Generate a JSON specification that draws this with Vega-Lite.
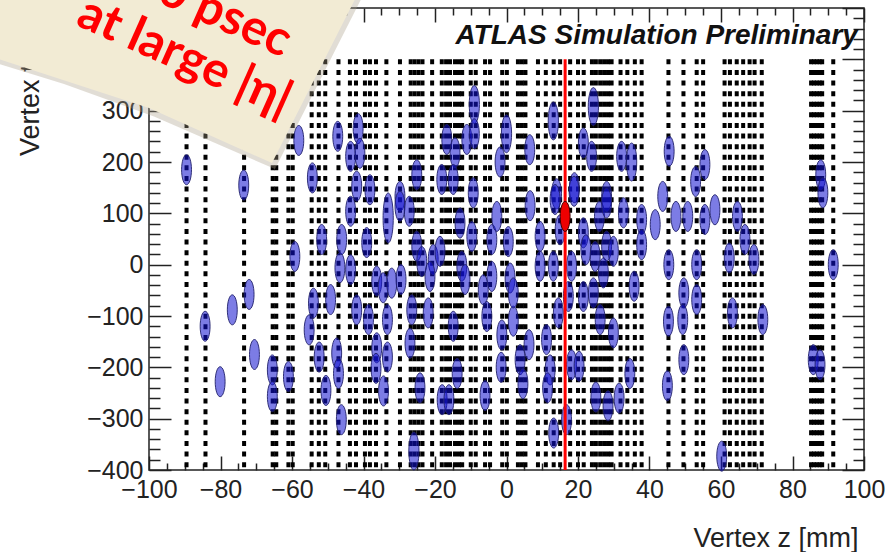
{
  "$schema": "https://vega.github.io/schema/vega-lite/v6.json",
  "width": 715,
  "height": 462,
  "autosize": {"type": "none"},
  "padding": {"left": 149, "top": 8, "right": 25, "bottom": 82},
  "background": "white",
  "config": {
    "view": {"stroke": "#222222", "strokeWidth": 1.5},
    "axis": {
      "grid": false,
      "domain": false,
      "zindex": 0,
      "tickColor": "#222222",
      "tickWidth": 1.5,
      "labelFont": "Liberation Sans",
      "labelFontSize": 25,
      "labelColor": "#222222",
      "labelFlush": false,
      "labelOverlap": false,
      "labelBound": false,
      "titleFont": "Liberation Sans",
      "titleFontSize": 27,
      "titleFontWeight": "normal",
      "titleColor": "#222222"
    }
  },
  "datasets": {
    "one": [{}],
    "tracks": [
      {"z": -89.5}, {"z": -84.2}, {"z": -73.4}, {"z": -65.4}, {"z": -64.4}, {"z": -61.0}, {"z": -59.8},
      {"z": -54.5}, {"z": -52.5}, {"z": -50.7}, {"z": -47.0}, {"z": -43.8}, {"z": -42.1}, {"z": -39.6},
      {"z": -38.2}, {"z": -36.5}, {"z": -33.6}, {"z": -29.8}, {"z": -26.8}, {"z": -25.7}, {"z": -24.6},
      {"z": -23.5}, {"z": -20.8}, {"z": -18.1}, {"z": -16.9}, {"z": -15.8}, {"z": -14.4}, {"z": -13.3},
      {"z": -12.4}, {"z": -10.0}, {"z": -8.6}, {"z": -6.0}, {"z": -4.6}, {"z": -1.2}, {"z": 0.1},
      {"z": 3.2}, {"z": 4.3}, {"z": 5.3}, {"z": 8.8}, {"z": 11.0}, {"z": 13.2}, {"z": 15.0},
      {"z": 17.8}, {"z": 20.0}, {"z": 21.6}, {"z": 23.9}, {"z": 25.0}, {"z": 26.2}, {"z": 27.3},
      {"z": 28.4}, {"z": 29.4}, {"z": 31.9}, {"z": 33.8}, {"z": 35.9}, {"z": 37.8}, {"z": 45.3},
      {"z": 49.5}, {"z": 53.2}, {"z": 55.0}, {"z": 61.0}, {"z": 62.5}, {"z": 64.4}, {"z": 66.2},
      {"z": 68.0}, {"z": 69.4}, {"z": 71.4}, {"z": 85.2}, {"z": 86.0}, {"z": 86.8}, {"z": 87.6},
      {"z": 88.3}, {"z": 91.4}
    ],
    "vertices": [
      {"z": -89.5, "t": 185, "c": "m"}, {"z": -73.5, "t": 155, "c": "m"}, {"z": -58.1, "t": 242, "c": "m"},
      {"z": -54.3, "t": 169, "c": "m"}, {"z": -47.2, "t": 250, "c": "m"}, {"z": -43.6, "t": 211, "c": "m"},
      {"z": -41.5, "t": 265, "c": "m"}, {"z": -41.0, "t": 217, "c": "m"}, {"z": -41.9, "t": 153, "c": "m"},
      {"z": -38.2, "t": 146, "c": "m"}, {"z": -29.8, "t": 133, "c": "m"}, {"z": -25.1, "t": 175, "c": "m"},
      {"z": -18.1, "t": 166, "c": "m"}, {"z": -16.7, "t": 244, "c": "m"}, {"z": -14.4, "t": 218, "c": "m"},
      {"z": -14.9, "t": 166, "c": "m"}, {"z": -11.1, "t": 244, "c": "m"}, {"z": -9.0, "t": 312, "c": "l"},
      {"z": -9.0, "t": 255, "c": "m"}, {"z": -9.3, "t": 140, "c": "m"}, {"z": -1.8, "t": 200, "c": "m"},
      {"z": 0.0, "t": 255, "c": "l"}, {"z": 6.5, "t": 224, "c": "m"}, {"z": 13.1, "t": 280, "c": "l"},
      {"z": 21.5, "t": 237, "c": "m"}, {"z": 24.3, "t": 308, "c": "l"}, {"z": 23.8, "t": 211, "c": "m"},
      {"z": 32.2, "t": 211, "c": "m"}, {"z": 35.0, "t": 200, "c": "l"}, {"z": 45.5, "t": 221, "c": "m"},
      {"z": 52.9, "t": 162, "c": "m"}, {"z": 55.5, "t": 195, "c": "m"}, {"z": 87.9, "t": 175, "c": "m"},
      {"z": 88.5, "t": 140, "c": "m"}, {"z": 19.0, "t": 150, "c": "m"}, {"z": 14.0, "t": 138, "c": "m"},
      {"z": 28.0, "t": 133, "c": "m"}, {"z": 6.6, "t": 115, "c": "m"},
      {"z": -84.3, "t": -120, "c": "m"}, {"z": -76.7, "t": -88, "c": "m"}, {"z": -72.0, "t": -58, "c": "m"},
      {"z": -70.5, "t": -175, "c": "m"}, {"z": -59.2, "t": 16, "c": "m"}, {"z": -54.0, "t": -75, "c": "m"},
      {"z": -55.2, "t": -127, "c": "m"}, {"z": -51.7, "t": 49, "c": "m"}, {"z": -52.4, "t": -180, "c": "m"},
      {"z": -49.2, "t": -68, "c": "m"}, {"z": -47.5, "t": -172, "c": "m"}, {"z": -47.0, "t": -212, "c": "m"},
      {"z": -46.6, "t": -6, "c": "m"}, {"z": -46.1, "t": 49, "c": "m"}, {"z": -43.6, "t": 104, "c": "m"},
      {"z": -43.6, "t": -10, "c": "m"}, {"z": -41.9, "t": -88, "c": "m"}, {"z": -39.1, "t": 43, "c": "m"},
      {"z": -38.6, "t": -107, "c": "m"}, {"z": -36.3, "t": -32, "c": "m"}, {"z": -36.3, "t": -162, "c": "m"},
      {"z": -34.5, "t": -45, "c": "m"}, {"z": -33.1, "t": 91, "c": "x"}, {"z": -33.3, "t": -107, "c": "m"},
      {"z": -33.3, "t": -180, "c": "m"}, {"z": -32.1, "t": -36, "c": "m"}, {"z": -29.8, "t": 114, "c": "m"},
      {"z": -29.5, "t": -29, "c": "m"}, {"z": -27.2, "t": 104, "c": "m"}, {"z": -26.5, "t": -88, "c": "m"},
      {"z": -27.0, "t": -153, "c": "m"}, {"z": -25.1, "t": 36, "c": "m"}, {"z": -23.7, "t": 6, "c": "m"},
      {"z": -21.9, "t": -94, "c": "m"}, {"z": -20.5, "t": 10, "c": "m"}, {"z": -21.4, "t": -23, "c": "m"},
      {"z": -18.6, "t": 26, "c": "m"}, {"z": -14.9, "t": -120, "c": "m"}, {"z": -13.0, "t": 81, "c": "m"},
      {"z": -12.5, "t": -3, "c": "m"}, {"z": -11.6, "t": -29, "c": "m"}, {"z": -9.7, "t": 55, "c": "m"},
      {"z": -6.5, "t": -49, "c": "m"}, {"z": -5.5, "t": -101, "c": "m"}, {"z": -4.1, "t": 49, "c": "m"},
      {"z": -4.1, "t": -23, "c": "m"}, {"z": -2.7, "t": 94, "c": "m"}, {"z": -1.3, "t": -137, "c": "m"},
      {"z": 0.5, "t": 45, "c": "m"}, {"z": 1.0, "t": -26, "c": "m"}, {"z": 1.9, "t": -110, "c": "m"},
      {"z": 3.8, "t": -185, "c": "m"}, {"z": 6.3, "t": -156, "c": "m"},
      {"z": 13.6, "t": 127, "c": "m"}, {"z": 15.0, "t": 68, "c": "m"}, {"z": 18.9, "t": 143, "c": "m"},
      {"z": 9.4, "t": 55, "c": "m"}, {"z": 9.4, "t": -3, "c": "m"}, {"z": 13.1, "t": -3, "c": "m"},
      {"z": 1.9, "t": -55, "c": "m"}, {"z": 11.2, "t": -146, "c": "m"}, {"z": 14.5, "t": -94, "c": "m"},
      {"z": 12.2, "t": -205, "c": "m"}, {"z": 17.3, "t": -62, "c": "m"}, {"z": 18.2, "t": -3, "c": "m"},
      {"z": 18.2, "t": -195, "c": "m"}, {"z": 20.3, "t": -198, "c": "m"}, {"z": 21.5, "t": 62, "c": "m"},
      {"z": 22.2, "t": 29, "c": "m"}, {"z": 21.5, "t": -62, "c": "m"}, {"z": 24.8, "t": 16, "c": "m"},
      {"z": 24.3, "t": -55, "c": "m"}, {"z": 26.0, "t": 94, "c": "m"}, {"z": 28.0, "t": 120, "c": "m"},
      {"z": 28.0, "t": 36, "c": "m"}, {"z": 29.9, "t": 26, "c": "m"}, {"z": 26.2, "t": -107, "c": "m"},
      {"z": 27.1, "t": -16, "c": "m"}, {"z": 29.9, "t": -133, "c": "m"}, {"z": 32.7, "t": 101, "c": "m"},
      {"z": 35.7, "t": -42, "c": "m"}, {"z": 37.8, "t": 88, "c": "m"}, {"z": 37.8, "t": 39, "c": "m"},
      {"z": 41.6, "t": 78, "c": "m"}, {"z": 43.7, "t": 133, "c": "m"}, {"z": 47.4, "t": 94, "c": "m"},
      {"z": 50.7, "t": 94, "c": "m"}, {"z": 55.5, "t": 88, "c": "m"}, {"z": 58.3, "t": 107, "c": "m"},
      {"z": 45.4, "t": 0, "c": "m"}, {"z": 49.6, "t": -55, "c": "m"}, {"z": 53.2, "t": 0, "c": "m"},
      {"z": 53.2, "t": -68, "c": "m"}, {"z": 45.3, "t": -110, "c": "m"}, {"z": 49.3, "t": -107, "c": "m"},
      {"z": 49.6, "t": -185, "c": "m"}, {"z": 62.3, "t": 13, "c": "m"}, {"z": 63.2, "t": -94, "c": "m"},
      {"z": 64.6, "t": 94, "c": "m"}, {"z": 66.7, "t": 49, "c": "m"}, {"z": 69.2, "t": 10, "c": "m"},
      {"z": 71.7, "t": -107, "c": "m"}, {"z": 91.4, "t": 0, "c": "m"}, {"z": 85.8, "t": -185, "c": "m"},
      {"z": 87.7, "t": -195, "c": "m"},
      {"z": -80.1, "t": -228, "c": "m"}, {"z": -65.5, "t": -205, "c": "m"}, {"z": -65.5, "t": -257, "c": "m"},
      {"z": -61.0, "t": -218, "c": "m"}, {"z": -50.5, "t": -245, "c": "m"}, {"z": -46.2, "t": -302, "c": "m"},
      {"z": -36.5, "t": -202, "c": "m"}, {"z": -34.4, "t": -246, "c": "m"}, {"z": -25.9, "t": -363, "c": "l"},
      {"z": -24.2, "t": -240, "c": "m"}, {"z": -18.0, "t": -263, "c": "m"}, {"z": -16.1, "t": -263, "c": "m"},
      {"z": -13.8, "t": -212, "c": "m"}, {"z": -6.0, "t": -255, "c": "m"}, {"z": -1.5, "t": -200, "c": "m"},
      {"z": 4.6, "t": -232, "c": "m"}, {"z": 11.5, "t": -240, "c": "m"}, {"z": 13.2, "t": -328, "c": "m"},
      {"z": 16.8, "t": -302, "c": "m"}, {"z": 25.0, "t": -258, "c": "m"}, {"z": 28.4, "t": -275, "c": "m"},
      {"z": 31.5, "t": -260, "c": "m"}, {"z": 34.5, "t": -212, "c": "m"}, {"z": 45.0, "t": -236, "c": "m"},
      {"z": 60.2, "t": -373, "c": "m"}
    ],
    "truth": [{"z": 16.4, "t": 94, "c": "m"}]
  },
  "layer": [
    {
      "data": {"name": "tracks"},
      "mark": {"type": "rule", "color": "black", "strokeWidth": 4, "strokeDash": [5, 5.6]},
      "encoding": {
        "x": {"field": "z", "type": "quantitative",
              "scale": {"domain": [-100, 100], "nice": false, "zero": false},
              "axis": {"orient": "bottom", "values": [-100, -80, -60, -40, -20, 0, 20, 40, 60, 80, 100],
                       "tickSize": -14, "labelPadding": 21, "title": "Vertex z [mm]",
                       "titleX": 709, "titleY": 76, "titleAlign": "right", "titleAnchor": "end", "titleBaseline": "alphabetic"}},
        "y": {"datum": 400, "type": "quantitative",
              "scale": {"domain": [-400, 500], "nice": false, "zero": false},
              "axis": {"orient": "left", "values": [-400, -300, -200, -100, 0, 100, 200, 300, 400, 500],
                       "tickSize": -22, "labelPadding": 28, "title": "Vertex t [ps]",
                       "titleX": -119, "titleY": 5, "titleAngle": -90, "titleAlign": "right", "titleAnchor": "end", "titleBaseline": "middle"}},
        "y2": {"datum": -400}
      }
    },
    {
      "data": {"name": "vertices"},
      "mark": {"type": "point", "filled": true, "size": 3600, "fill": "#1010d0", "fillOpacity": 0.55,
               "stroke": "#20206a", "strokeWidth": 1, "strokeOpacity": 0.9},
      "encoding": {
        "x": {"field": "z", "type": "quantitative",
              "scale": {"domain": [-100, 100], "nice": false, "zero": false},
              "axis": {"orient": "bottom", "values": [-95, -90, -85, -75, -70, -65, -55, -50, -45, -35, -30, -25, -15, -10, -5, 5, 10, 15, 25, 30, 35, 45, 50, 55, 65, 70, 75, 85, 90, 95],
                       "tickSize": -7, "labels": false, "title": null}},
        "y": {"field": "t", "type": "quantitative",
              "scale": {"domain": [-400, 500], "nice": false, "zero": false},
              "axis": {"orient": "left", "values": [-380, -360, -340, -320, -280, -260, -240, -220, -180, -160, -140, -120, -80, -60, -40, -20, 20, 40, 60, 80, 120, 140, 160, 180, 220, 240, 260, 280, 320, 340, 360, 380, 420, 440, 460, 480],
                       "tickSize": -11, "labels": false, "title": null}},
        "shape": {"field": "c", "type": "nominal", "legend": null,
                  "scale": {"domain": ["s", "m", "l", "x"],
                            "range": ["M0,-0.367A0.16,0.367 0 1,1 0,0.367A0.16,0.367 0 1,1 0,-0.367Z",
                                      "M0,-0.5A0.165,0.5 0 1,1 0,0.5A0.165,0.5 0 1,1 0,-0.5Z",
                                      "M0,-0.633A0.17,0.633 0 1,1 0,0.633A0.17,0.633 0 1,1 0,-0.633Z",
                                      "M0,-0.833A0.17,0.833 0 1,1 0,0.833A0.17,0.833 0 1,1 0,-0.833Z"]}}
      }
    },
    {
      "data": {"name": "one"},
      "mark": {"type": "rule", "color": "#ff0000", "strokeWidth": 3},
      "encoding": {
        "x": {"datum": 16.4, "type": "quantitative",
              "scale": {"domain": [-100, 100], "nice": false, "zero": false},
              "axis": {"orient": "top", "values": [-100, -80, -60, -40, -20, 0, 20, 40, 60, 80, 100],
                       "tickSize": -14, "labels": false, "title": null}},
        "y": {"datum": -400, "type": "quantitative",
              "scale": {"domain": [-400, 500], "nice": false, "zero": false},
              "axis": {"orient": "right", "values": [-400, -300, -200, -100, 0, 100, 200, 300, 400, 500],
                       "tickSize": -22, "labels": false, "title": null}},
        "y2": {"datum": 400}
      }
    },
    {
      "data": {"name": "truth"},
      "mark": {"type": "point", "filled": true, "size": 3600, "fill": "#ee0000", "fillOpacity": 1,
               "stroke": "#400000", "strokeWidth": 1},
      "encoding": {
        "x": {"field": "z", "type": "quantitative",
              "scale": {"domain": [-100, 100], "nice": false, "zero": false},
              "axis": {"orient": "top", "values": [-95, -90, -85, -75, -70, -65, -55, -50, -45, -35, -30, -25, -15, -10, -5, 5, 10, 15, 25, 30, 35, 45, 50, 55, 65, 70, 75, 85, 90, 95],
                       "tickSize": -7, "labels": false, "title": null}},
        "y": {"field": "t", "type": "quantitative",
              "scale": {"domain": [-400, 500], "nice": false, "zero": false},
              "axis": {"orient": "right", "values": [-380, -360, -340, -320, -280, -260, -240, -220, -180, -160, -140, -120, -80, -60, -40, -20, 20, 40, 60, 80, 120, 140, 160, 180, 220, 240, 260, 280, 320, 340, 360, 380, 420, 440, 460, 480],
                       "tickSize": -11, "labels": false, "title": null}},
        "shape": {"field": "c", "type": "nominal", "legend": null}
      }
    },
    {
      "data": {"name": "one"},
      "mark": {"type": "text", "text": "ATLAS Simulation Preliminary", "font": "Liberation Sans",
               "fontSize": 28, "fontWeight": "bold", "fontStyle": "italic", "align": "right",
               "baseline": "alphabetic", "color": "#111111"},
      "encoding": {
        "x": {"datum": 98.3, "type": "quantitative", "scale": {"domain": [-100, 100], "nice": false, "zero": false}, "axis": null},
        "y": {"datum": 429, "type": "quantitative", "scale": {"domain": [-400, 500], "nice": false, "zero": false}, "axis": null}
      }
    },
    {
      "data": {"name": "one"},
      "mark": {"type": "point", "filled": true, "size": 250000, "fill": "#a89f86", "fillOpacity": 0.35, "strokeWidth": 0,
               "shape": "M0.504,0.48L0.02,0.27L-0.34,0.14L-0.824,-0.01L-0.824,-0.412L0.956,-0.412Z"},
      "encoding": {
        "x": {"datum": -100, "type": "quantitative", "scale": {"domain": [-100, 100], "nice": false, "zero": false}, "axis": null},
        "y": {"datum": 420, "type": "quantitative", "scale": {"domain": [-400, 500], "nice": false, "zero": false}, "axis": null}
      }
    },
    {
      "data": {"name": "one"},
      "mark": {"type": "point", "filled": true, "size": 250000, "fill": "#f2ebd4", "fillOpacity": 1, "strokeWidth": 0,
               "shape": "M0.492,0.456L0.0,0.236L-0.356,0.12L-0.836,-0.036L-0.836,-0.436L0.944,-0.436Z"},
      "encoding": {
        "x": {"datum": -100, "type": "quantitative", "scale": {"domain": [-100, 100], "nice": false, "zero": false}, "axis": null},
        "y": {"datum": 420, "type": "quantitative", "scale": {"domain": [-400, 500], "nice": false, "zero": false}, "axis": null}
      }
    },
    {
      "data": {"name": "one"},
      "mark": {"type": "text", "text": "~30 psec", "font": "Lato", "fontSize": 49, "fontWeight": "bold",
               "align": "right", "baseline": "middle", "angle": 24, "color": "#ff0000"},
      "encoding": {
        "x": {"datum": -61.0, "type": "quantitative", "scale": {"domain": [-100, 100], "nice": false, "zero": false}, "axis": null},
        "y": {"datum": 430, "type": "quantitative", "scale": {"domain": [-400, 500], "nice": false, "zero": false}, "axis": null}
      }
    },
    {
      "data": {"name": "one"},
      "mark": {"type": "text", "text": "at large |η|", "font": "Lato", "fontSize": 49, "fontWeight": "bold",
               "align": "right", "baseline": "middle", "angle": 24, "color": "#ff0000"},
      "encoding": {
        "x": {"datum": -60.9, "type": "quantitative", "scale": {"domain": [-100, 100], "nice": false, "zero": false}, "axis": null},
        "y": {"datum": 314, "type": "quantitative", "scale": {"domain": [-400, 500], "nice": false, "zero": false}, "axis": null}
      }
    }
  ],
  "resolve": {"axis": {"x": "independent", "y": "independent"}}
}
